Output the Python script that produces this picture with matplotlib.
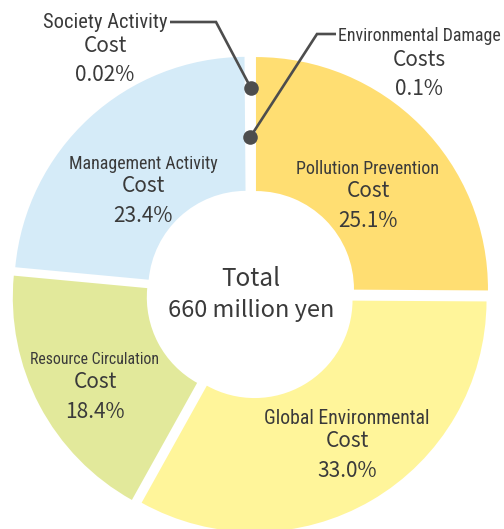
import numpy as np
import matplotlib.pyplot as plt

# cost breakdown (share of 660 million yen)
names = ["Pollution Prevention", "Global Environmental", "Resource Circulation",
         "Management Activity", "Environmental Damage", "Society Activity"]
second = ["Cost", "Cost", "Cost", "Cost", "Costs", "Cost"]
shares = [25.1, 33.0, 18.4, 23.4, 0.1, 0.02]
pct_labels = ["25.1%", "33.0%", "18.4%", "23.4%", "0.1%", "0.02%"]
colors = ["#FFDE72", "#FFF59A", "#E2E99B", "#D5EBF8", "#FFFFFF", "#FFFFFF"]

TXT = "#3a3a3a"
LINE = "#4d4d4d"
NAME_FONT = ["Roboto Condensed", "DejaVu Sans"]
BODY_FONT = ["Noto Sans CJK JP", "DejaVu Sans"]

W, H = 504, 529
fig = plt.figure(figsize=(W / 100, H / 100), dpi=100)
ax = fig.add_axes([0, 0, 1, 1])

cx, cy = 251, H - 294
R, r_in = 232, 98

# explode is in data units (pixels here)
wedges, _ = ax.pie(shares, colors=colors, startangle=90, counterclock=False,
                   radius=R, center=(cx, cy), explode=[7] * len(shares),
                   wedgeprops=dict(width=R - r_in, linewidth=0),
                   frame=True)
ax.set_xlim(0, W)
ax.set_ylim(0, H)
ax.set_aspect("equal")
ax.axis("off")

mids = [(w.theta1 + w.theta2) / 2 for w in wedges]


def label(x, y, i, name_fs, dy1=22, dy2=30):
    ax.text(x, H - y + dy1, names[i], ha="center", va="center", fontsize=name_fs,
            color=TXT, family=NAME_FONT)
    ax.text(x, H - y, second[i], ha="center", va="center", fontsize=15,
            color=TXT, family=BODY_FONT)
    ax.text(x, H - y - dy2, pct_labels[i], ha="center", va="center", fontsize=15,
            color=TXT, family=BODY_FONT)


# inner labels, position of the middle line in pixels
inner_pos = [(368, 191), (347, 441), (95, 382), (143, 186)]
inner_fs = [13, 14.2, 11.3, 12.9]
for i, (x, y) in enumerate(inner_pos):
    label(x, y, i, inner_fs[i])

# tiny slices: dots with leader lines
for i, rr, elbow, end, txt_xy, fs in [
        (4, 157, (317, 34), (336, 34), (419, 60), 12.9),
        (5, 206, (216, 22), (170, 22), (105, 46), 14.8)]:
    a = np.radians(mids[i])
    dx, dy = cx + rr * np.cos(a), cy + rr * np.sin(a)
    ax.plot([dx, elbow[0], end[0]], [dy, H - elbow[1], H - end[1]], color=LINE, lw=1.9,
            solid_capstyle="butt", solid_joinstyle="miter")
    ax.scatter([dx], [dy], s=110, color=LINE, zorder=5, linewidths=0)
    label(txt_xy[0], txt_xy[1], i, fs, dy1=24, dy2=29)

ax.text(cx, cy + 15, "Total", ha="center", va="center", fontsize=17.5, color=TXT, family=BODY_FONT)
ax.text(cx, cy - 16, "660 million yen", ha="center", va="center", fontsize=17, color=TXT,
        family=BODY_FONT)

fig.savefig("out.png", dpi=100)
